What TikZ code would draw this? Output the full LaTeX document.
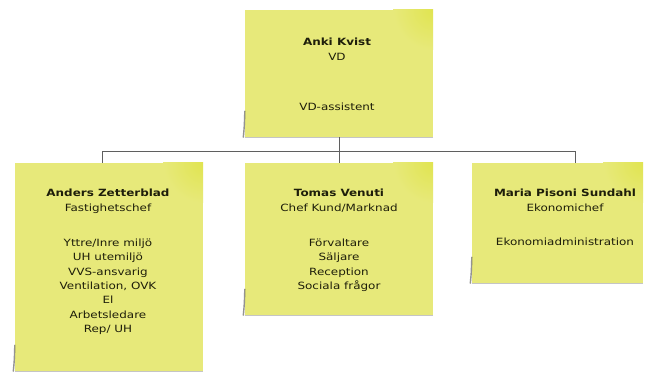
\documentclass[tikz,border=0pt]{standalone}
\usepackage{fontspec}
\newfontfamily\notefont{DejaVu Sans}[FakeStretch=1.2]
\definecolor{notebg}{RGB}{231,233,122}
\definecolor{noteglow}{RGB}{224,228,80}
\definecolor{notetext}{RGB}{30,30,10}
\definecolor{connline}{RGB}{95,95,95}
\begin{document}
\begin{tikzpicture}[x=1bp,y=-1bp,
  note/.style={fill=notebg, draw=none, inner sep=0pt},
  txt/.style={align=center, inner sep=0pt, text=notetext,
    font=\notefont\fontsize{10}{14.5}\selectfont},
  conn/.style={draw=connline, line width=0.9bp},
  curl/.style={draw=black!70, line width=1.4bp, opacity=0.6, line cap=round},
  edge/.style={draw=black!45, line width=0.7bp, opacity=0.5}]
\useasboundingbox[fill=white] (0,0) rectangle (652,371);

% notes
\node[note, minimum width=188bp, minimum height=127bp] (top) at (339,73.5) {};
\node[note, minimum width=188bp, minimum height=208bp] (left) at (109,267) {};
\node[note, minimum width=188bp, minimum height=152bp] (mid) at (339,239) {};
\node[note, minimum width=171bp, minimum height=120bp] (right) at (557.5,223) {};

% glow and curled corner
\foreach \n in {top,left,mid,right}{
  \begin{scope}
    \clip (\n.south west) rectangle (\n.north east);
    \shade[inner color=noteglow, outer color=notebg] (\n.north east) circle (40bp);
  \end{scope}
  \draw[edge] (\n.south west) -- (\n.south east);
  \draw[curl] ([yshift=26bp]\n.south west) .. controls ([xshift=-0.5bp,yshift=10bp]\n.south west) .. ([xshift=-1.5bp]\n.south west);
}

% connectors
\coordinate (bl) at (102,151);
\coordinate (br) at (575,151);
\draw[conn] (top.south) -- (mid.north);
\draw[conn] (bl |- left.north) -- (bl) -- (br) -- (br |- right.north);

% texts
\node[txt, anchor=north] (ttop) at (337,38)
  {\textbf{Anki Kvist}\\VD\\[35.5bp]VD-assistent};
\node[txt, anchor=north] (tleft) at (108,189)
  {\textbf{Anders Zetterblad}\\Fastighetschef\\[20.5bp]Yttre/Inre miljö\\UH utemiljö\\VVS-ansvarig\\Ventilation, OVK\\El\\Arbetsledare\\Rep/ UH};
\node[txt, anchor=north] (tmid) at (339,189)
  {\textbf{Tomas Venuti}\\Chef Kund/Marknad\\[20.5bp]Förvaltare\\Säljare\\Reception\\Sociala frågor};
\node[txt, anchor=north] (tright) at (565,189)
  {\textbf{Maria Pisoni Sundahl}\\Ekonomichef\\[19.5bp]Ekonomiadministration};
\end{tikzpicture}
\end{document}
